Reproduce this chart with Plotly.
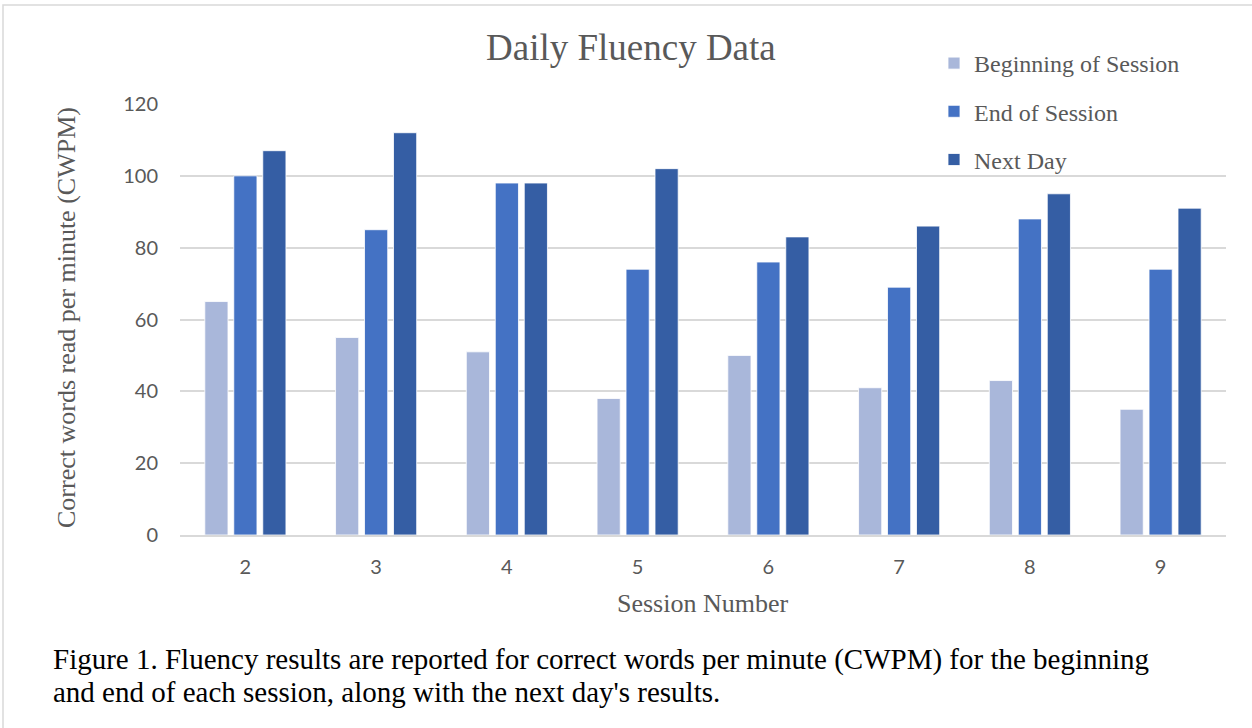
import plotly.graph_objects as go

sessions = ["2", "3", "4", "5", "6", "7", "8", "9"]
beginning = [65, 55, 51, 38, 50, 41, 43, 35]
end_session = [100, 85, 98, 74, 76, 69, 88, 74]
next_day = [107, 112, 98, 102, 83, 86, 95, 91]
series_names = ["Beginning of Session", "End of Session", "Next Day"]
colors = ["#A9B7DA", "#4472C4", "#355EA4"]

W, H = 1252, 728
L, R, T, B = 180, 26, 104, 193
pw, ph = W - L - R, H - T - B

def px_x(x):
    return (x - L) / pw

def px_y(y):
    return (H - B - y) / ph

fig = go.Figure()
for name, vals, col in zip(series_names, [beginning, end_session, next_day], colors):
    fig.add_trace(go.Bar(
        x=sessions, y=vals, name=name, legendgroup=name,
        marker=dict(color=col, line=dict(color="rgba(255,255,255,0.8)", width=1)),
    ))

serif = "Liberation Serif, Times New Roman, serif"
sans = "Lato, Liberation Sans, sans-serif"
gray = "#595959"

fig.update_layout(
    width=W, height=H,
    margin=dict(l=L, r=R, t=T, b=B, autoexpand=False),
    paper_bgcolor="white", plot_bgcolor="white",
    barmode="group", bargap=0.335, bargroupgap=0.2,
    showlegend=True,
    legend=dict(
        x=px_x(934), y=px_y(41), xanchor="left", yanchor="top",
        font=dict(family=serif, size=24, color=gray),
        traceorder="grouped", tracegroupgap=14,
        bgcolor="rgba(0,0,0,0)", itemwidth=30,
    ),
    xaxis=dict(
        type="category", showgrid=False, showline=True, linecolor="#D9D9D9", linewidth=1.5,
        ticks="outside", ticklen=13, tickcolor="rgba(0,0,0,0)",
        tickfont=dict(family=sans, size=20, color=gray),
    ),
    yaxis=dict(
        range=[0, 120], dtick=20, showgrid=True, gridcolor="#D9D9D9", gridwidth=1.5,
        zeroline=False, showline=False,
        ticks="outside", ticklen=17, tickcolor="rgba(0,0,0,0)",
        tickfont=dict(family=sans, size=20, color=gray),
    ),
)

annotations = [
    dict(text="Daily Fluency Data", x=px_x(631), y=px_y(48), font=dict(family=serif, size=37, color=gray)),
    dict(text="Correct words read per minute (CWPM)", x=px_x(66), y=px_y(318), textangle=-90,
         font=dict(family=serif, size=26, color=gray)),
    dict(text="Session Number", x=px_x(703), y=px_y(603), font=dict(family=serif, size=26, color=gray)),
    dict(text="Figure 1. Fluency results are reported for correct words per minute (CWPM) for the beginning",
         x=px_x(51), y=px_y(659), xanchor="left", font=dict(family=serif, size=29, color="black")),
    dict(text="and end of each session, along with the next day's results.",
         x=px_x(51), y=px_y(692), xanchor="left", font=dict(family=serif, size=29, color="black")),
]
for a in annotations:
    a.setdefault("xanchor", "center")
    a.setdefault("yanchor", "middle")
    a.update(xref="paper", yref="paper", showarrow=False)
fig.update_layout(annotations=annotations)

fig.add_shape(type="rect", xref="paper", yref="paper",
              x0=px_x(3), x1=px_x(1260), y0=px_y(740), y1=px_y(5),
              line=dict(color="#D9D9D9", width=1.5), fillcolor="rgba(0,0,0,0)", layer="below")

fig.write_html("out.html", config={"displayModeBar": False},
               post_script="document.body.style.margin='0';document.body.style.overflow='hidden';")
